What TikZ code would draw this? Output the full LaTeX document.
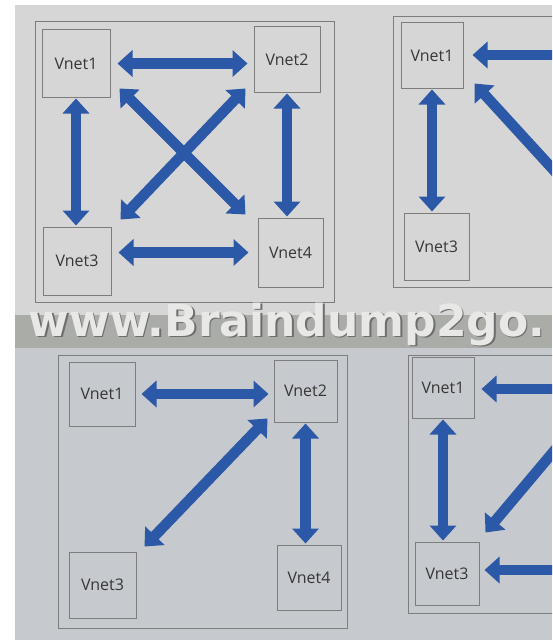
\documentclass[tikz,border=0pt]{standalone}
\usepackage{fontspec}
\setmainfont{Open Sans}
\newfontfamily\wmfont{DejaVu Sans}
\usetikzlibrary{arrows.meta}
\definecolor{arrowblue}{RGB}{44,88,168}
\definecolor{bgtop}{RGB}{214,214,214}
\definecolor{bgband}{RGB}{170,172,168}
\definecolor{bgbot}{RGB}{198,201,205}
\definecolor{framegray}{RGB}{125,125,125}
\definecolor{labelgray}{RGB}{55,55,55}
\tikzset{
  panel/.style={draw=framegray, line width=1pt},
  vbox/.style={draw=framegray, line width=1pt, inner sep=0pt, font=\fontsize{16}{18}\selectfont, text=labelgray},
  dbl/.style={draw=arrowblue, line width=10.5pt, {Triangle[length=15pt,width=26pt]}-{Triangle[length=15pt,width=26pt]}},
  single/.style={draw=arrowblue, line width=10.5pt, {Triangle[length=15pt,width=26pt]}-},
  watermark/.style={font=\wmfont\bfseries\fontsize{44}{44}\selectfont, anchor=base west, inner sep=0pt}
}
\begin{document}
\begin{tikzpicture}[x=1pt, y=-1pt]
\clip (0,0) rectangle (552,642);
\useasboundingbox (0,0) rectangle (552,642);
% backgrounds
\fill[white] (0,0) rectangle (552,642);
\fill[bgtop] (15,5) rectangle (552,315);
\fill[bgband] (15,315) rectangle (552,348);
\fill[bgbot] (15,348) rectangle (552,640);

% ---------- top-left panel ----------
\draw[panel] (35,22) rectangle (334,302);
\node[vbox, minimum width=68pt, minimum height=67pt] (tl1) at (76,63.5) {Vnet1};
\node[vbox, minimum width=66pt, minimum height=65pt] (tl2) at (287,59.5) {Vnet2};
\node[vbox, minimum width=68pt, minimum height=68pt] (tl3) at (77,261) {Vnet3};
\node[vbox, minimum width=65pt, minimum height=69pt] (tl4) at (290.5,252.5) {Vnet4};
\draw[dbl, shorten <=7pt, shorten >=6pt] (tl1.east) -- (tl1.east -| tl2.west);
\draw[dbl, shorten <=1pt, shorten >=1pt] (tl1.south) -- (tl1.south |- tl3.north);
\draw[dbl, shorten <=1pt, shorten >=1pt] (tl2.south) -- (tl2.south |- tl4.north);
\draw[dbl, shorten <=7pt, shorten >=9pt] (tl3.east |- tl4.west) -- (tl4.west);
\draw[dbl] ([shift={(9,-9)}]tl1.south east) -- ([shift={(-12,-3)}]tl4.north west);
\draw[dbl] ([shift={(-8,-4)}]tl2.south west) -- ([shift={(9,-7)}]tl3.north east);

% ---------- top-right panel ----------
\draw[panel] (393,17) rectangle (570,287);
\node[vbox, minimum width=62pt, minimum height=65pt] (tr1) at (432,55.5) {Vnet1};
\node[vbox, minimum width=65pt, minimum height=67pt] (tr3) at (436.5,246.5) {Vnet3};
\coordinate (trh) at (570,55);
\coordinate (trd) at (570,188);
\draw[single, shorten <=9pt] (tr1.east |- trh) -- (trh);
\draw[single] ([shift={(11,-5)}]tr1.south east) -- (trd);
\draw[dbl, shorten <=1pt, shorten >=1pt] (tr1.south) -- (tr1.south |- tr3.north);

% ---------- bottom-left panel ----------
\draw[panel] (58,355) rectangle (347,628);
\node[vbox, minimum width=66pt, minimum height=64pt] (bl1) at (102,394) {Vnet1};
\node[vbox, minimum width=63pt, minimum height=62pt] (bl2) at (305.5,391) {Vnet2};
\node[vbox, minimum width=67pt, minimum height=66pt] (bl3) at (102.5,585) {Vnet3};
\node[vbox, minimum width=64pt, minimum height=65pt] (bl4) at (309,577.5) {Vnet4};
\draw[dbl, shorten <=6pt, shorten >=5pt] (bl1.east) -- (bl1.east -| bl2.west);
\draw[dbl] ([shift={(-6,-4)}]bl2.south west) -- ([shift={(8,-5)}]bl3.north east);
\draw[dbl, shorten <=1pt, shorten >=1pt] (bl2.south) -- (bl2.south |- bl4.north);

% ---------- bottom-right panel ----------
\draw[panel] (408,355) rectangle (570,613);
\node[vbox, minimum width=62pt, minimum height=61pt] (br1) at (443,387.5) {Vnet1};
\node[vbox, minimum width=64pt, minimum height=63pt] (br3) at (447,573.5) {Vnet3};
\coordinate (brh1) at (570,389);
\coordinate (brd) at (570,432);
\coordinate (brh3) at (570,570);
\draw[single, shorten <=7pt] (br1.east |- brh1) -- (brh1);
\draw[single] ([shift={(6,-9)}]br3.north east) -- (brd);
\draw[single, shorten <=5pt] (br3.east |- brh3) -- (brh3);
\draw[dbl, shorten <=1pt, shorten >=1pt] (br1.south) -- (br1.south |- br3.north);

% ---------- watermark ----------
\node[watermark, text={rgb,255:red,110;green,110;blue,110}] (wms) at (30,337.5) {www.Braindump2go.};
\node[watermark, text={rgb,255:red,232;green,232;blue,230}] (wm) at (28.5,336) {www.Braindump2go.};
\end{tikzpicture}
\end{document}
